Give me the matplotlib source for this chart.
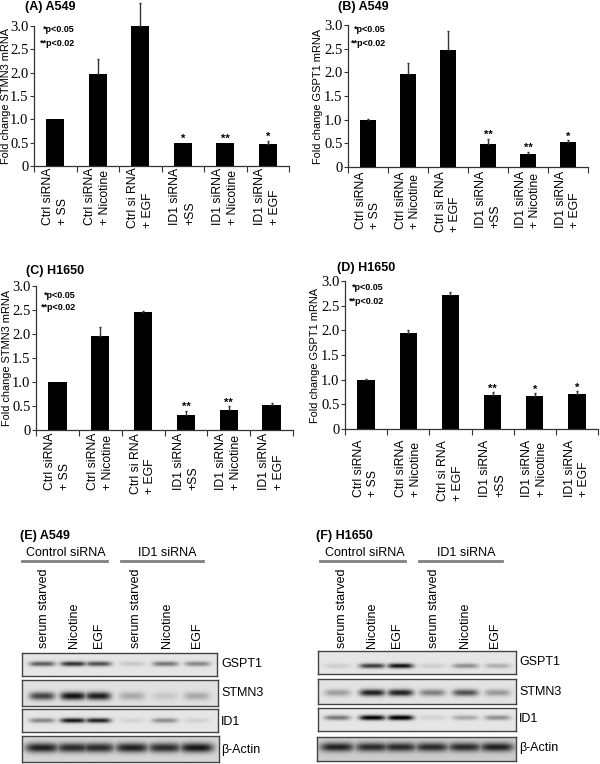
import numpy as np
import matplotlib
matplotlib.use('Agg')
import matplotlib.pyplot as plt
from matplotlib.transforms import ScaledTranslation

plt.rcParams['font.family'] = ['Liberation Sans', 'DejaVu Sans']

W, H = 600, 764

# --- bar data ---
categories = ['Ctrl siRNA\n+ SS', 'Ctrl siRNA\n+ Nicotine', 'Ctrl si RNA\n+ EGF',
              'ID1 siRNA\n+SS', 'ID1 siRNA\n+ Nicotine', 'ID1 siRNA\n+ EGF']
y_ticks = [0, 0.5, 1.0, 1.5, 2.0, 2.5, 3.0]
y_tick_labels = ['0', '0.5', '1.0', '1.5', '2.0', '2.5', '3.0']

a_vals = [1.0, 1.97, 3.0, 0.5, 0.5, 0.47]
a_tops = [1.0, 2.30, 3.5, 0.5, 0.5, 0.54]
a_stars = ['', '', '', '*', '**', '*']

b_vals = [1.0, 1.96, 2.48, 0.48, 0.27, 0.53]
b_tops = [1.02, 2.19, 2.88, 0.60, 0.32, 0.56]
b_stars = ['', '', '', '**', '**', '*']

c_vals = [1.0, 1.96, 2.46, 0.32, 0.42, 0.53]
c_tops = [1.0, 2.14, 2.48, 0.40, 0.50, 0.57]
c_stars = ['', '', '', '**', '**', '']

d_vals = [1.0, 1.95, 2.72, 0.69, 0.67, 0.71]
d_tops = [1.01, 2.0, 2.78, 0.74, 0.72, 0.77]
d_stars = ['', '', '', '**', '*', '*']

# --- blot data: band strength per lane ---
lanes = ['serum starved', 'Nicotine', 'EGF', 'serum starved', 'Nicotine', 'EGF']
proteins = ['GSPT1', 'STMN3', 'ID1', 'β-Actin']
groups = ['Control siRNA', 'ID1 siRNA']

e_gspt1 = [0.55, 0.72, 0.60, 0.12, 0.45, 0.38]
e_stmn3 = [0.62, 0.82, 0.78, 0.22, 0.10, 0.22]
e_id1 = [0.38, 0.82, 0.78, 0.07, 0.35, 0.08]
e_actin = [0.72, 0.68, 0.68, 0.72, 0.68, 0.76]

f_gspt1 = [0.10, 0.68, 0.85, 0.10, 0.35, 0.22]
f_stmn3 = [0.28, 0.78, 0.78, 0.40, 0.58, 0.30]
f_id1 = [0.45, 0.95, 1.0, 0.08, 0.25, 0.35]
f_actin = [0.68, 0.64, 0.64, 0.64, 0.64, 0.68]

fig = plt.figure(figsize=(W / 100, H / 100), dpi=100)


def px_axes(left, top, right, bottom):
    return fig.add_axes([left / W, 1 - bottom / H, (right - left) / W, (bottom - top) / H])


def px_text(x, y, s, **kw):
    fig.text(x / W, 1 - y / H, s, **kw)


def bar_panel(box, vals, tops, stars, ylabel, title, title_xy, p_x, p_ys, ylabel_x, width=0.42, lab_pad=2, lab_dx=4):
    ax = px_axes(*box)
    x = np.arange(6) + 0.5
    ax.bar(x, vals, width=width, color='black')
    for xi, v, t in zip(x, vals, tops):
        if t > v:
            ax.errorbar(xi, v, yerr=[[0], [t - v]], color='#333333', lw=1.0, capsize=1.0,
                        capthick=1.0, clip_on=False)
    for xi, t, s in zip(x, tops, stars):
        if s:
            ax.text(xi, t - 0.03, s, ha='center', va='bottom', fontsize=8, fontweight='bold')
    ax.set_xlim(0, 6)
    ax.set_ylim(0, 3.0)
    ax.set_xticks(range(7))
    ax.set_xticklabels([])
    ax.set_xticks(x, minor=True)
    ax.set_xticklabels(categories, minor=True, rotation=90, fontsize=8.8, va='top', ha='center',
                       multialignment='left', linespacing=1.3)
    # the two-line labels sit a bit right of the bars
    shift = ScaledTranslation(lab_dx / 100, 0, fig.dpi_scale_trans)
    for lab in ax.get_xticklabels(minor=True):
        lab.set_transform(lab.get_transform() + shift)
    ax.tick_params(axis='x', which='minor', length=0, pad=lab_pad)
    ax.tick_params(axis='x', which='major', length=4, width=0.8, color='#333333')
    ax.set_yticks(y_ticks)
    ax.set_yticklabels(y_tick_labels, fontfamily='Liberation Serif', fontsize=10.5)
    ax.tick_params(axis='y', length=3, width=0.8, pad=1, color='#333333')
    for s in ['top', 'right']:
        ax.spines[s].set_visible(False)
    for s in ['left', 'bottom']:
        ax.spines[s].set_color('#333333')
        ax.spines[s].set_linewidth(0.9)
    px_text(ylabel_x, (box[1] + box[3]) / 2, ylabel, rotation=90, ha='center', va='center', fontsize=7.9)
    px_text(title_xy[0], title_xy[1], title, fontsize=9, fontweight='bold', va='center')
    px_text(p_x, p_ys[0], '*p<0.05', fontsize=6.5, fontweight='bold', ha='right', va='center')
    px_text(p_x, p_ys[1], '**p<0.02', fontsize=6.5, fontweight='bold', ha='right', va='center')


bar_panel((34, 26, 289, 166), a_vals, a_tops, a_stars, 'Fold change STMN3 mRNA', '(A) A549',
          (25, 7), 75, (30, 44), 6, width=0.43, lab_pad=1)
bar_panel((348, 25, 588, 167), b_vals, b_tops, b_stars, 'Fold change GSPT1 mRNA', '(B) A549',
          (338, 7), 386, (30, 44), 318, width=0.40, lab_pad=3)
bar_panel((36, 286, 293, 430), c_vals, c_tops, c_stars, 'Fold change STMN3 mRNA', '(C) H1650',
          (26, 271), 76, (295, 308), 7, width=0.43, lab_pad=2, lab_dx=5)
bar_panel((345, 281, 598, 429), d_vals, d_tops, d_stars, 'Fold change GSPT1 mRNA', '(D) H1650',
          (337, 268), 384, (288, 301), 315, width=0.41, lab_pad=8, lab_dx=6)


def blot(box, strengths, centers, band_y, background, thick=0.11, half=13.0):
    ax = px_axes(*box)
    nx, ny = 240, 40
    xx = np.linspace(box[0], box[2], nx)
    yy = np.linspace(0, 1, ny)
    down = np.exp(-((yy - band_y) / thick) ** 2)
    # strongest lane wins, so wide neighbouring bands do not add up
    across = np.zeros(nx)
    for c, s in zip(centers, strengths):
        across = np.maximum(across, s * np.exp(-((xx - c) / half) ** 4))
    img = background - np.outer(down, across)
    ax.imshow(np.clip(img, 0, 1), cmap='gray', vmin=0, vmax=1, aspect='auto', interpolation='bilinear')
    ax.set_xticks([])
    ax.set_yticks([])
    for s in ax.spines.values():
        s.set_color('#444444')
        s.set_linewidth(1.0)


# panel E
e_centers = [42, 73, 98, 132, 165, 197]
blot((22, 653, 217, 676), e_gspt1, e_centers, 0.47, 0.90)
blot((22, 680, 218, 706), e_stmn3, e_centers, 0.62, 0.88, thick=0.16)
blot((22, 709, 218, 732), e_id1, e_centers, 0.5, 0.90)
blot((22, 736, 219, 762), e_actin, e_centers, 0.45, 0.84, thick=0.19, half=17.0)

# panel F
f_centers = [337, 372, 400, 432, 465, 497]
blot((318, 651, 516, 674), f_gspt1, f_centers, 0.65, 0.90)
blot((318, 679, 516, 704), f_stmn3, f_centers, 0.55, 0.89, thick=0.14)
blot((318, 708, 516, 731), f_id1, f_centers, 0.42, 0.90)
blot((317, 737, 516, 761), f_actin, f_centers, 0.42, 0.80, thick=0.19, half=17.0)


def blot_labels(title, title_x, group_xs, group_lines, lane_xs, row_x, row_ys):
    px_text(title_x, 536, title, fontsize=9, fontweight='bold', va='center')
    for g, gx in zip(groups, group_xs):
        px_text(gx, 553, g, fontsize=9, ha='center', va='center')
    for (x0, x1) in group_lines:
        fig.add_artist(plt.Line2D([x0 / W, x1 / W], [1 - 561 / H] * 2, color='#808080', lw=2))
    for lab, lx in zip(lanes, lane_xs):
        px_text(lx, 648, lab, rotation=90, fontsize=9, ha='center', va='bottom')
    for p, ry in zip(proteins, row_ys):
        px_text(row_x, ry, p, fontsize=9, va='center')


blot_labels('(E) A549', 20, (66, 167), ((22, 107), (121, 203)),
            (44, 74, 99, 136, 167, 197), 221, (664, 693, 722, 750))
blot_labels('(F) H1650', 316, (365, 466), ((320, 405), (419, 502)),
            (342, 372, 397, 434, 465, 495), 519, (662, 692, 719, 748))

fig.savefig('out.png', dpi=100)
